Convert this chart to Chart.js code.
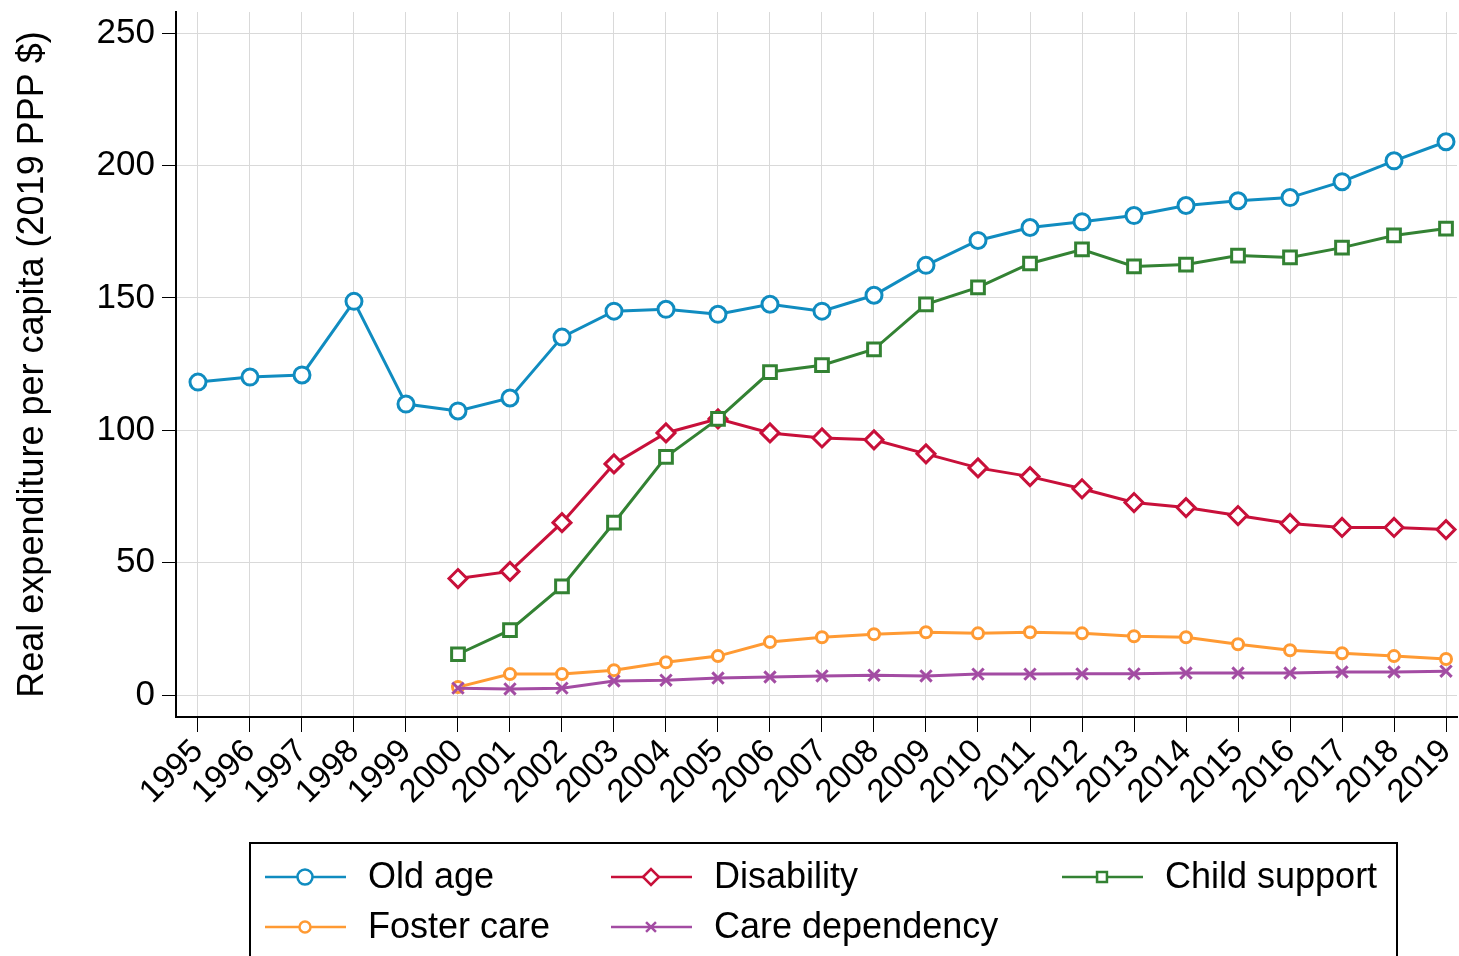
<!DOCTYPE html>
<html>
<head>
<meta charset="utf-8">
<script src="https://cdn.jsdelivr.net/npm/chart.js@4.4.1/dist/chart.umd.min.js"></script>
<style>
  html, body { margin: 0; padding: 0; background: #fff; overflow: hidden; }
  #wrap { width: 1459px; height: 956px; position: relative; overflow: hidden; }
  canvas { display: block; }
</style>
</head>
<body>
<div id="wrap"><canvas id="spendChart" width="1469" height="956"></canvas></div>
<script>
// data
const years = [1995, 1996, 1997, 1998, 1999, 2000, 2001, 2002, 2003, 2004, 2005, 2006, 2007,
    2008, 2009, 2010, 2011, 2012, 2013, 2014, 2015, 2016, 2017, 2018, 2019];
const yTicks = [0, 50, 100, 150, 200, 250];

const oldAge = [118.2, 120.1, 120.9, 148.7, 109.9, 107.3, 112.2, 135.2, 145.0, 145.7, 143.8, 147.6, 145.0,
    151.0, 162.3, 171.7, 176.6, 178.8, 181.1, 184.9, 186.7, 187.9, 193.9, 201.8, 209.0];
const disability = [null, null, null, null, null, 44.0, 46.7, 65.1, 87.3, 99.0, 104.3, 99.0, 97.1,
    96.4, 91.1, 85.8, 82.5, 77.9, 72.7, 70.8, 67.8, 64.8, 63.3, 63.3, 62.5];
const childSupport = [null, null, null, null, null, 15.4, 24.5, 41.0, 65.1, 90.0, 104.3, 122.0, 124.6,
    130.6, 147.6, 154.0, 163.0, 168.3, 161.9, 162.6, 166.0, 165.3, 169.0, 173.6, 176.2];
const fosterCare = [null, null, null, null, null, 3.0, 7.9, 7.9, 9.4, 12.4, 14.7, 20.0, 21.8,
    23.0, 23.7, 23.3, 23.7, 23.3, 22.2, 21.8, 19.2, 16.9, 15.8, 14.7, 13.6];
const careDependency = [null, null, null, null, null, 2.6, 2.3, 2.6, 5.3, 5.6, 6.4, 6.8, 7.2,
    7.5, 7.2, 7.9, 7.9, 8.0, 8.0, 8.3, 8.3, 8.3, 8.7, 8.7, 9.0];

const FONT = "'Liberation Sans', Arial, sans-serif";
const BLUE = '#108cc0', RED = '#c8103a', GREEN = '#338233', ORANGE = '#ff9a33', PURPLE = '#a34ca3';

function points(values) {
    return years.map((y, i) => ({ x: y, y: values[i] }));
}

function series(label, values, color, style, radius, order) {
    return {
        label: label,
        data: points(values),
        borderColor: color,
        backgroundColor: color,
        borderWidth: 3,
        pointStyle: style,
        pointRadius: radius,
        pointBorderWidth: 3,
        pointBorderColor: color,
        pointBackgroundColor: style === 'crossRot' ? color : '#fff',
        spanGaps: false,
        clip: false,
        order: order
    };
}

const datasets = [
    series('Old age', oldAge, BLUE, 'circle', 8, 4),
    series('Disability', disability, RED, 'rectRot', 9, 3),
    series('Child support', childSupport, GREEN, 'rect', 9, 2),
    series('Foster care', fosterCare, ORANGE, 'circle', 5.5, 1),
    series('Care dependency', careDependency, PURPLE, 'crossRot', 8, 0)
];

// legend drawn by hand: line + marker like the original
const legendItems = [
    { ds: 0, x: 265, y: 877, r: 7.5 },
    { ds: 1, x: 611, y: 877, r: 8 },
    { ds: 2, x: 1062, y: 877, r: 7 },
    { ds: 3, x: 265, y: 927, r: 5.5 },
    { ds: 4, x: 611, y: 927, r: 7 }
];

const legendPlugin = {
    id: 'boxLegend',
    afterDraw(chart) {
        const c = chart.ctx;
        c.save();
        c.strokeStyle = '#000';
        c.lineWidth = 2;
        c.strokeRect(250, 843, 1147, 130);
        c.font = '36px ' + FONT;
        c.textBaseline = 'middle';
        c.textAlign = 'left';
        legendItems.forEach(it => {
            const d = chart.data.datasets[it.ds];
            c.strokeStyle = d.borderColor;
            c.lineWidth = 2.5;
            c.beginPath();
            c.moveTo(it.x, it.y);
            c.lineTo(it.x + 81, it.y);
            c.stroke();
            c.fillStyle = d.pointBackgroundColor;
            c.strokeStyle = d.borderColor;
            c.lineWidth = 2.5;
            Chart.helpers.drawPoint(c, { pointStyle: d.pointStyle, radius: it.r, borderWidth: 2.5, rotation: 0 },
                it.x + 40, it.y);
            c.fillStyle = '#000';
            c.fillText(d.label, it.x + 103, it.y + 1);
        });
        c.restore();
    }
};

const ctx = document.getElementById('spendChart').getContext('2d');

// canvas is 10px wider than the page: chart.js keeps ~10px for the last rotated label,
// this lets the plot run to the window edge like the original
const spendChart = new Chart(ctx, {
    type: 'line',
    data: { datasets: datasets },
    options: {
        responsive: false,
        animation: false,
        layout: { padding: { top: 8, right: 1, bottom: 129, left: 0 } },
        plugins: {
            legend: { display: false },
            tooltip: { enabled: false }
        },
        scales: {
            x: {
                type: 'linear',
                min: 1995 - 22 / 52.04,
                max: 2019 + 11 / 52.04,
                afterBuildTicks(axis) { axis.ticks = years.map(v => ({ value: v })); },
                afterFit(axis) {
                    axis.height = 110;
                    axis.paddingLeft = 0; axis.paddingRight = 0;
                    axis.paddingTop = 0; axis.paddingBottom = 0;
                },
                grid: { color: '#d9d9d9', lineWidth: 1, tickColor: '#000', tickLength: 15, drawTicks: true },
                border: { display: true, color: '#000', width: 2 },
                ticks: {
                    color: '#000',
                    font: { family: FONT, size: 33 },
                    minRotation: 45,
                    maxRotation: 45,
                    autoSkip: false,
                    padding: 0,
                    callback: v => String(v)
                }
            },
            y: {
                min: -8.3,
                max: 258,
                afterBuildTicks(axis) { axis.ticks = yTicks.map(v => ({ value: v })); },
                afterFit(axis) {
                    axis.width = 176;
                    axis.paddingTop = 0; axis.paddingBottom = 0;
                },
                grid: { color: '#d9d9d9', lineWidth: 1, tickColor: '#000', tickLength: 14 },
                border: { display: true, color: '#000', width: 2 },
                ticks: {
                    color: '#000',
                    font: { family: FONT, size: 35 },
                    padding: 7
                },
                title: {
                    display: true,
                    text: 'Real expenditure per capita (2019 PPP $)',
                    color: '#000',
                    font: { family: FONT, size: 36 },
                    padding: { top: 11, bottom: 0 }
                }
            }
        }
    },
    plugins: [legendPlugin]
});
</script>
</body>
</html>
